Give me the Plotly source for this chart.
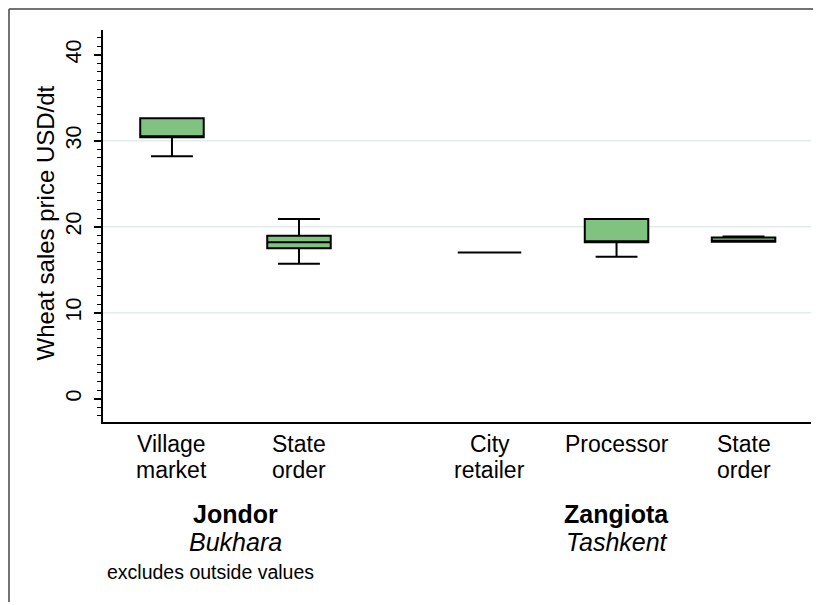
import plotly.graph_objects as go

# ---- data ----
categories = ["Village market", "State order", "City retailer", "Processor", "State order"]
cat_lines = [["Village", "market"], ["State", "order"], ["City", "retailer"], ["Processor"], ["State", "order"]]
districts = ["Jondor", "Jondor", "Zangiota", "Zangiota", "Zangiota"]
regions = {"Jondor": "Bukhara", "Zangiota": "Tashkent"}

lower_whisker = [28.2, 15.7, 17.0, 16.5, 18.25]
q1_vals       = [30.4, 17.5, 17.0, 18.2, 18.25]
median_vals   = [30.4, 18.2, 17.0, 18.2, 18.25]
q3_vals       = [32.6, 18.95, 17.0, 20.9, 18.75]
upper_whisker = [32.6, 20.9, 17.0, 20.9, 18.87]

y_ticks = [0, 10, 20, 30, 40]
grid_vals = [10, 20, 30]
note = "excludes outside values"
y_title = "Wheat sales price USD/dt"

# ---- positions (with gap between districts) ----
positions = []
p = 1.0
for i, d in enumerate(districts):
    if i > 0:
        p += 1.0 if districts[i - 1] == d else 1.5
    positions.append(p)

FONT = "Liberation Sans, Arial, Helvetica, sans-serif"
GREEN = "#80c280"

fig = go.Figure()
fig.add_trace(go.Box(
    x=positions,
    q1=q1_vals, median=median_vals, q3=q3_vals,
    lowerfence=lower_whisker, upperfence=upper_whisker,
    width=0.5, whiskerwidth=0.66,
    fillcolor=GREEN,
    line=dict(color="black", width=2),
    boxpoints=False,
    showlegend=False,
    hoverinfo="skip",
))

# figure geometry (page body adds an 8px offset)
W, H = 813, 597
L, R, T, B = 95, 10, 22, 183
pw, ph = W - L - R, H - T - B
def px_x(px):
    return (px - L) / pw
def px_y(py):
    return (H - B - py) / ph

shapes = []
for g in grid_vals:
    shapes.append(dict(type="line", xref="paper", yref="y", x0=0, x1=1, y0=g, y1=g,
                       line=dict(color="#e3ebee", width=1.5), layer="below"))

# outer frame (left and top edges visible)
shapes.append(dict(type="line", xref="paper", yref="paper", x0=px_x(1), x1=px_x(1),
                   y0=px_y(1), y1=px_y(594), line=dict(color="#444", width=1.5)))
shapes.append(dict(type="line", xref="paper", yref="paper", x0=px_x(1), x1=px_x(W),
                   y0=px_y(1), y1=px_y(1), line=dict(color="#444", width=1.5)))

annotations = []
# category labels (two lines)
for xpos, lines in zip(positions, cat_lines):
    for j, t in enumerate(lines):
        annotations.append(dict(text=t, x=xpos, xref="x", y=0, yref="paper",
                                yshift=-(22.3 + 25.8 * j), xanchor="center", yanchor="middle",
                                showarrow=False, font=dict(family=FONT, size=23, color="black")))
# district / region labels
seen = []
for d in districts:
    if d not in seen:
        seen.append(d)
for d in seen:
    ps = [pp for pp, dd in zip(positions, districts) if dd == d]
    cx = sum(ps) / len(ps)
    annotations.append(dict(text="<b>%s</b>" % d, x=cx, xref="x", y=0, yref="paper",
                            yshift=-91.5, xanchor="center", yanchor="middle", showarrow=False,
                            font=dict(family=FONT, size=25, color="black")))
    annotations.append(dict(text="<i>%s</i>" % regions[d], x=cx, xref="x", y=0, yref="paper",
                            yshift=-119.5, xanchor="center", yanchor="middle", showarrow=False,
                            font=dict(family=FONT, size=25, color="black")))
annotations.append(dict(text=note, x=px_x(97), xref="paper", y=0, yref="paper",
                        yshift=-150, xanchor="left", yanchor="middle", showarrow=False,
                        font=dict(family=FONT, size=19.5, color="black")))
annotations.append(dict(text=y_title, x=0, xref="paper", xshift=-58, y=0.5, yref="paper",
                        yshift=2.5, textangle=-90, xanchor="center", yanchor="middle",
                        showarrow=False, font=dict(family=FONT, size=24, color="black")))

fig.update_layout(
    width=W, height=H,
    margin=dict(l=L, r=R, t=T, b=B, pad=0),
    paper_bgcolor="white", plot_bgcolor="white",
    shapes=shapes, annotations=annotations,
    xaxis=dict(range=[0.457, 6.031], showticklabels=False, ticks="", showgrid=False,
               zeroline=False, showline=True, linecolor="black", linewidth=1.5, fixedrange=True),
    yaxis=dict(range=[-2.71, 42.87], tickvals=y_ticks, ticktext=[str(v) for v in y_ticks],
               tickangle=-90, ticks="outside", ticklen=7, tickwidth=1.5, tickcolor="black",
               showgrid=False, zeroline=False, showline=True, linecolor="black", linewidth=1.5,
               tickfont=dict(family=FONT, size=21.5, color="black"), ticklabelstandoff=5,
               minor=dict(dtick=1, ticks="outside", ticklen=4, tickwidth=1, tickcolor="black",
                          showgrid=False)),
)

fig.write_html("out.html")
